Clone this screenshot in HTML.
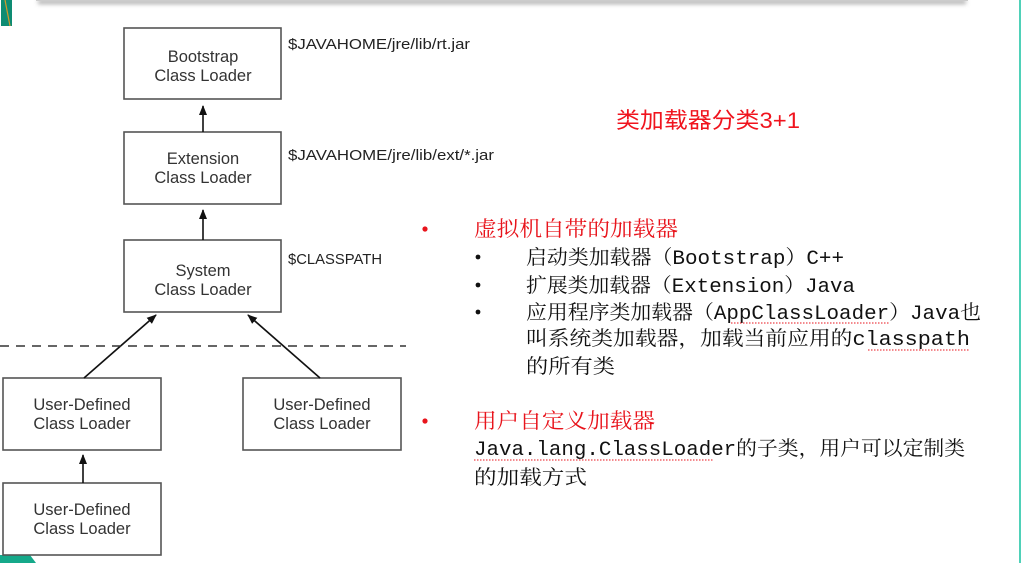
<!DOCTYPE html>
<html><head><meta charset="utf-8"><style>
html,body{margin:0;padding:0;background:#fff;}
svg{display:block;}
.b{font-family:"Liberation Sans",sans-serif;font-size:16.5px;fill:#333;text-anchor:middle;}
.p{font-family:"Liberation Sans",sans-serif;font-size:15px;fill:#222;}
.c{font-family:"Liberation Mono","Noto Serif CJK SC",serif;font-size:20px;fill:#111;}
.r{font-family:"Noto Serif CJK SC","Noto Sans CJK SC",serif;font-size:21px;fill:#e8141c;}
</style></head><body>
<svg width="1023" height="563" viewBox="0 0 1023 563" xmlns="http://www.w3.org/2000/svg">
<defs>
<filter id="sh" x="-5%" y="-200%" width="110%" height="500%"><feGaussianBlur stdDeviation="2"/></filter>
<marker id="ar" markerWidth="10" markerHeight="10" refX="9" refY="5" orient="auto" markerUnits="userSpaceOnUse"><path d="M0,1 L10,5 L0,9 Z" fill="#111"/></marker>
</defs>
<rect x="38" y="0" width="928" height="4" fill="#aaa" filter="url(#sh)"/>
<rect x="36" y="-2" width="932" height="3" fill="#ccc"/>
<polygon points="1,0 12,0 12,26 1,26" fill="#0e8c73"/>
<line x1="5" y1="0" x2="10" y2="26" stroke="#d19a2a" stroke-width="1.2"/>
<polygon points="0,555 30,555 36,563 0,563" fill="#15a98a"/>
<line x1="1020" y1="0" x2="1020" y2="563" stroke="#4fd1b8" stroke-width="2"/>

<g fill="#fff" stroke="#555" stroke-width="1.6">
<rect x="124" y="28" width="157" height="71"/>
<rect x="124" y="132" width="157" height="72"/>
<rect x="124" y="240" width="157" height="72"/>
<rect x="3" y="378" width="158" height="72"/>
<rect x="243" y="378" width="158" height="72"/>
<rect x="3" y="483" width="158" height="72"/>
</g>
<text class="b" x="203" y="62">Bootstrap</text><text class="b" x="203" y="81">Class Loader</text>
<text class="b" x="203" y="164">Extension</text><text class="b" x="203" y="183">Class Loader</text>
<text class="b" x="203" y="276">System</text><text class="b" x="203" y="295">Class Loader</text>
<text class="b" x="82" y="410">User-Defined</text><text class="b" x="82" y="429">Class Loader</text>
<text class="b" x="322" y="410">User-Defined</text><text class="b" x="322" y="429">Class Loader</text>
<text class="b" x="82" y="515">User-Defined</text><text class="b" x="82" y="534">Class Loader</text>

<text class="p" x="288" y="49" textLength="182" lengthAdjust="spacingAndGlyphs">$JAVAHOME/jre/lib/rt.jar</text>
<text class="p" x="288" y="160" textLength="206" lengthAdjust="spacingAndGlyphs">$JAVAHOME/jre/lib/ext/*.jar</text>
<text class="p" x="288" y="264" textLength="94" lengthAdjust="spacingAndGlyphs">$CLASSPATH</text>

<g stroke="#111" stroke-width="1.6" fill="none">
<line x1="203" y1="132" x2="203" y2="106" marker-end="url(#ar)"/>
<line x1="203" y1="240" x2="203" y2="210" marker-end="url(#ar)"/>
<line x1="84" y1="378" x2="156" y2="315" marker-end="url(#ar)"/>
<line x1="320" y1="378" x2="248" y2="315" marker-end="url(#ar)"/>
<line x1="83" y1="483" x2="83" y2="455" marker-end="url(#ar)"/>
</g>
<line x1="0" y1="346" x2="406" y2="346" stroke="#333" stroke-width="1.5" stroke-dasharray="9,7"/>

<text x="616" y="128" textLength="184" lengthAdjust="spacingAndGlyphs" style="font-family:'Liberation Sans','Noto Sans CJK SC',sans-serif;font-size:22px;fill:#f0141e;">类加载器分类3+1</text>

<g fill="#e8141c"><circle cx="425" cy="229" r="2.6"/><circle cx="425" cy="421" r="2.6"/></g>
<g fill="#111"><circle cx="478" cy="257" r="2.4"/><circle cx="478" cy="285" r="2.4"/><circle cx="478" cy="312" r="2.4"/></g>
<text class="r" x="474" y="236" textLength="204" lengthAdjust="spacingAndGlyphs">虚拟机自带的加载器</text>
<text class="c" x="526" y="264" textLength="318" lengthAdjust="spacingAndGlyphs">启动类加载器（Bootstrap）C++</text>
<text class="c" x="526" y="292" textLength="329" lengthAdjust="spacingAndGlyphs">扩展类加载器（Extension）Java</text>
<text class="c" x="526" y="319" textLength="455" lengthAdjust="spacingAndGlyphs">应用程序类加载器（AppClassLoader）Java也</text>
<text class="c" x="526" y="345" textLength="444" lengthAdjust="spacingAndGlyphs">叫系统类加载器，加载当前应用的classpath</text>
<text class="c" x="526" y="373" textLength="89" lengthAdjust="spacingAndGlyphs">的所有类</text>
<text class="r" x="474" y="428" textLength="181" lengthAdjust="spacingAndGlyphs">用户自定义加载器</text>
<text class="c" x="474" y="455" textLength="491" lengthAdjust="spacingAndGlyphs">Java.lang.ClassLoader的子类，用户可以定制类</text>
<text class="c" x="474" y="484" textLength="113" lengthAdjust="spacingAndGlyphs">的加载方式</text>
<g stroke="#e8141c" stroke-width="1" stroke-dasharray="1.5,1.5">
<line x1="731" y1="323" x2="890" y2="323"/>
<line x1="868" y1="350" x2="970" y2="350"/>
<line x1="474" y1="460" x2="714" y2="460"/>
</g>
</svg>
</body></html>
